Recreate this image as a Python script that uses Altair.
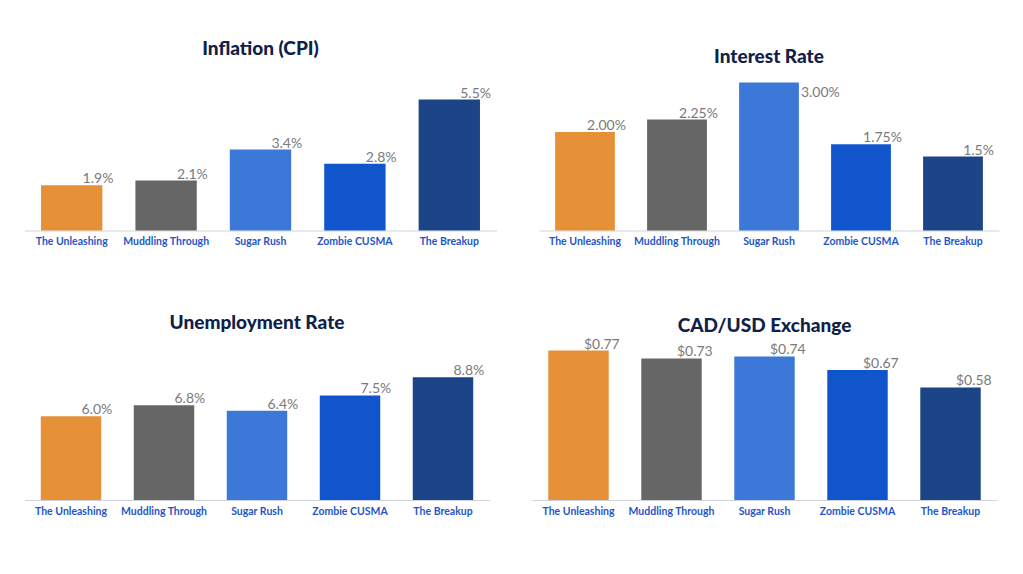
import altair as alt
import pandas as pd

categories = ["The Unleashing", "Muddling Through", "Sugar Rush", "Zombie CUSMA", "The Breakup"]
bar_colors = ["#e69138", "#666666", "#3c78d8", "#1155cc", "#1c4587"]

inflation = [1.9, 2.1, 3.4, 2.8, 5.5]
inflation_labels = ["1.9%", "2.1%", "3.4%", "2.8%", "5.5%"]

interest = [2.00, 2.25, 3.00, 1.75, 1.5]
interest_labels = ["2.00%", "2.25%", "3.00%", "1.75%", "1.5%"]

unemployment = [6.0, 6.8, 6.4, 7.5, 8.8]
unemployment_labels = ["6.0%", "6.8%", "6.4%", "7.5%", "8.8%"]

cad_usd = [0.77, 0.73, 0.74, 0.67, 0.58]
cad_usd_labels = ["$0.77", "$0.73", "$0.74", "$0.67", "$0.58"]

FONT = "Lato"
PLOT_H = 150


def panel(title, values, labels, ymax, width, title_offset, side_max=False):
    df = pd.DataFrame({"cat": categories, "value": values, "label": labels})
    band = width / 5.0
    bw = band * 0.65
    x = alt.X(
        "cat:N",
        sort=categories,
        scale=alt.Scale(paddingInner=0.35, paddingOuter=0.175),
        axis=alt.Axis(
            title=None,
            labelAngle=0,
            ticks=False,
            domainColor="#d0d3dc",
            domainWidth=1,
            labelColor="#1f56c8",
            labelFont=FONT,
            labelFontWeight="bold",
            labelFontSize=10.5,
            labelPadding=6,
            grid=False,
        ),
    )
    y = alt.Y("value:Q", scale=alt.Scale(domain=[0, ymax], nice=False, zero=True), axis=None)
    base = alt.Chart(df).encode(x=x, y=y)
    bars = base.mark_bar().encode(
        color=alt.Color("cat:N", scale=alt.Scale(domain=categories, range=bar_colors), legend=None)
    )
    maxv = max(values)
    if side_max:
        normal = base.transform_filter(alt.datum.value < maxv)
    else:
        normal = base
    txt = normal.mark_text(
        align="right", baseline="alphabetic", dx=bw / 2 + 11, dy=-2,
        font=FONT, fontSize=14, color="#7a7a7a",
    ).encode(text="label:N")
    layers = [bars, txt]
    if side_max:
        side = base.transform_filter(alt.datum.value >= maxv).mark_text(
            align="left", baseline="top", dx=bw / 2 + 2, dy=3,
            font=FONT, fontSize=14, color="#7a7a7a",
        ).encode(text="label:N")
        layers.append(side)
    return alt.layer(*layers).properties(
        width=width,
        height=PLOT_H,
        title=alt.TitleParams(
            title, font=FONT, fontSize=19, fontWeight=900, color="#0f2148",
            offset=title_offset, frame="group",
        ),
    )


p1 = panel("Inflation (CPI)", inflation, inflation_labels, PLOT_H / 23.8, 472, 22)
p2 = panel("Interest Rate", interest, interest_labels, PLOT_H / 49.3, 460, 14, side_max=True)
p3 = panel("Unemployment Rate", unemployment, unemployment_labels, PLOT_H / 13.95, 465, 17)
p4 = panel("CAD/USD Exchange", cad_usd, cad_usd_labels, PLOT_H / 194.0, 465, 2)

top = alt.hconcat(p1, p2, spacing=42.5, bounds="flush")
bottom = alt.hconcat(p3, p4, spacing=42.5, bounds="flush")
chart = alt.vconcat(top, bottom, spacing=119.5 + PLOT_H, bounds="flush").properties(
    padding={"left": 16.5, "top": 31.5, "right": 5, "bottom": 5},
    background="white",
).configure_view(stroke=None)

chart.save("out.html", embed_options={"renderer": "svg", "actions": False})
